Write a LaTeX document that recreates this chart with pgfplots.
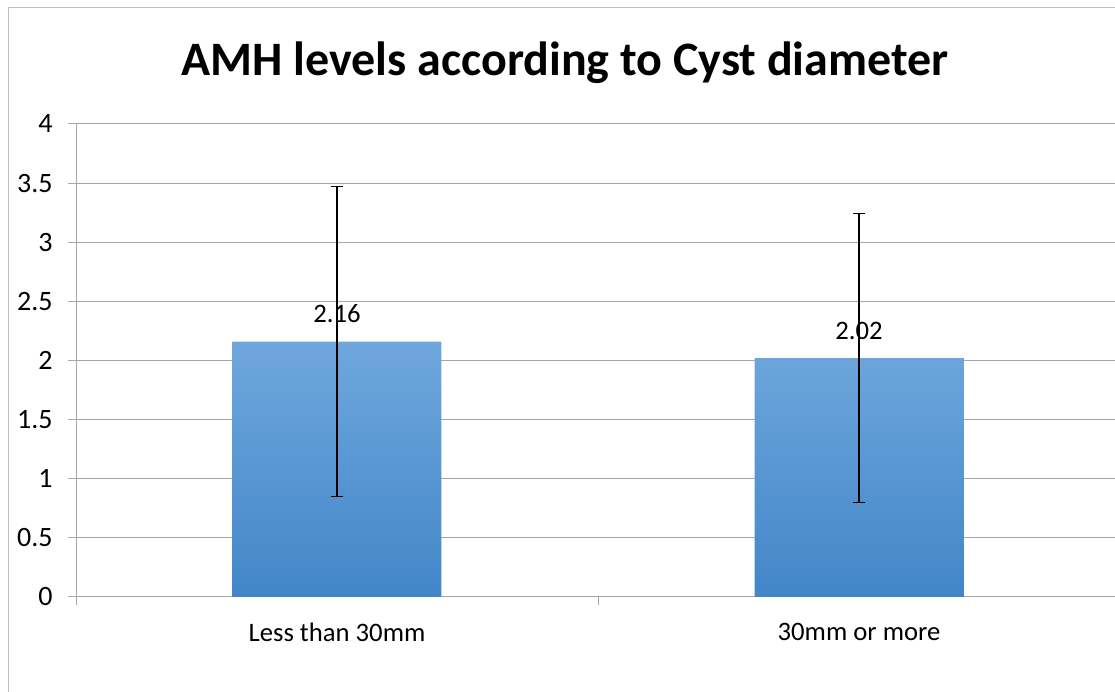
\documentclass[border=0pt]{standalone}
\usepackage{fontspec}
\setmainfont{Carlito}
\usepackage{pgfplots}
\pgfplotsset{compat=1.18}
\definecolor{gridc}{HTML}{A6A6A6}
\definecolor{borderc}{HTML}{BFBFBF}
\definecolor{bartop}{HTML}{6FA7DD}
\definecolor{barbot}{HTML}{4286C8}
\begin{document}
\begin{tikzpicture}
\useasboundingbox (0,0) rectangle (836.25pt,519pt);
\draw[borderc, line width=0.75pt] (6pt,-10pt) -- (6pt,513pt) -- (850pt,513pt);
\begin{axis}[
  at={(57pt,71.25pt)}, anchor=south west,
  scale only axis, width=779.25pt, height=354.75pt,
  xmin=-0.5, xmax=1.4904, ymin=0, ymax=4,
  axis x line=bottom, axis y line=left,
  axis line style={gridc, line width=0.75pt, -},
  ytick={0,0.5,1,1.5,2,2.5,3,3.5,4},
  ymajorgrids, grid style={gridc, line width=0.75pt},
  tick align=outside, major tick length=6pt,
  tick style={gridc, line width=0.75pt},
  xtick={-0.5,0.5}, xticklabels={},
  extra x ticks={0,1},
  extra x tick labels={Less than 30mm, 30mm or more},
  extra x tick style={major tick length=0pt, grid=none},
  xticklabel style={font=\fontsize{20}{24}\selectfont, black, yshift=-16pt},
  yticklabel style={font=\fontsize{21}{25}\selectfont, black, xshift=-8pt},
  /pgf/number format/assume math mode=true,
  clip=false,
]
\addplot[ybar, bar width=0.4, draw=none, top color=bartop, bottom color=barbot,
  nodes near coords,
  nodes near coords style={font=\fontsize{20}{24}\selectfont, black, anchor=base, inner sep=0pt, yshift=14.25pt},
  error bars/.cd, y dir=both, y explicit,
  error bar style={black, line width=0.8pt},
  error mark options={rotate=90, black, mark size=4.5pt, line width=0.8pt}]
  coordinates {(0,2.16) +- (0,1.31) (1,2.02) +- (0,1.22)};
\end{axis}
\node[font=\fontsize{36}{40}\selectfont\bfseries] at (423.75pt,472pt) {AMH levels according to Cyst diameter};
\end{tikzpicture}
\end{document}
